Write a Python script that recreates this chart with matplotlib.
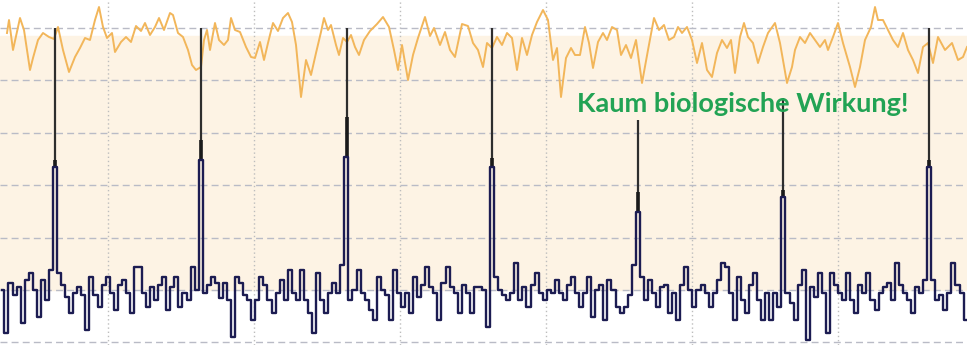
import matplotlib
matplotlib.use("Agg")
import matplotlib.pyplot as plt
import numpy as np

# orange curve: time (t) and amplitude
orange_t = [7, 9, 13, 20, 24, 30, 33, 38, 43, 49, 54, 58, 63, 69, 75, 80, 85, 90, 95, 99,
            103, 107, 112, 115, 121, 126, 131, 136, 141, 145, 150, 155, 159, 164, 170, 173,
            178, 183, 188, 192, 196, 201, 204, 207, 210, 215, 219, 224, 228, 231, 235, 240,
            246, 251, 255, 260, 264, 268, 273, 278, 283, 288, 292, 296, 301, 306, 311, 316,
            321, 324, 328, 331, 336, 339, 343, 347, 351, 355, 359, 364, 370, 377, 383, 389,
            394, 398, 402, 408, 413, 418, 425, 430, 434, 440, 445, 450, 455, 462, 468, 473,
            478, 483, 487, 492, 497, 502, 507, 512, 517, 522, 527, 532, 537, 543, 548, 553,
            557, 561, 566, 571, 575, 580, 585, 589, 593, 598, 603, 607, 612, 617, 621, 626,
            631, 636, 642, 648, 654, 659, 664, 669, 674, 678, 682, 687, 692, 697, 702, 707,
            712, 717, 722, 727, 731, 735, 740, 744, 748, 753, 758, 763, 768, 775, 780, 787,
            792, 795, 800, 805, 810, 815, 820, 825, 828, 833, 838, 843, 850, 855, 860, 865,
            871, 875, 878, 883, 888, 893, 898, 903, 908, 913, 918, 923, 928, 933, 938, 945,
            952, 958, 963, 967]
orange_a = [257, 270, 240, 272, 260, 220, 232, 250, 257, 253, 251, 263, 240, 218, 233, 242,
            252, 250, 270, 283, 263, 252, 257, 238, 248, 253, 248, 264, 259, 267, 255, 263,
            272, 260, 277, 275, 257, 253, 240, 225, 220, 223, 250, 260, 240, 267, 250, 245,
            250, 272, 260, 258, 243, 233, 232, 248, 230, 247, 267, 259, 272, 277, 268, 245,
            193, 230, 215, 237, 258, 272, 260, 265, 245, 235, 252, 248, 255, 243, 235, 250,
            259, 266, 273, 263, 240, 220, 245, 210, 235, 252, 273, 254, 262, 245, 258, 240,
            233, 266, 264, 247, 240, 223, 247, 242, 253, 245, 257, 252, 220, 252, 235, 255,
            268, 280, 270, 230, 242, 193, 232, 242, 235, 235, 263, 247, 222, 248, 257, 250,
            263, 260, 235, 245, 232, 250, 207, 240, 272, 260, 265, 250, 253, 263, 257, 263,
            250, 227, 247, 220, 213, 237, 250, 242, 250, 217, 253, 267, 253, 247, 227, 243,
            257, 267, 247, 207, 223, 240, 253, 247, 257, 250, 243, 250, 240, 253, 267, 247,
            223, 203, 223, 250, 263, 283, 270, 270, 260, 250, 243, 257, 240, 230, 217, 243,
            247, 227, 253, 240, 247, 230, 233, 243]

# navy noise, sampled every dt starting at t0
noise_t0 = 2.4
noise_dt = 4.047
noise_a = [0, -43, 7, -5, 3, -33, 10, 17, 0, -27, 10, -10, 20, 123,
           17, 5, -7, -23, -3, 3, -5, -40, 13, -5, -17, 5, 13, -3, -20, 5, 10, -3, -23, 23,
           23, -3, -17, 3, -10, 5, 13, -20, 3, 13, -17, -3, -10, 23, 0, 130,
           -3, 5, 13, 7, -8, 7, -10, -47, 13, 7, -5, -10, -30, -10, 13, 5, -10, -23, -3, 10,
           -10, 20, -3, -10, 20, -10, -23, -43, 17, -10, -23, -3, 7, -3, 25, 133,
           -10, 0, 20, -3, -10, -20, -30, 13, 0, -5, -30, 20, -3, -17, -3, -23, 13, -7, 5,
           23, 3, -3, -30, 7, 23, 3, -3, -23, 5, -3, -23, 3, 3, 0, -37, 123,
           13, 0, -5, -10, -3, 27, -10, 3, -17, 5, 17, -3, -10, 0, -3, 10, -3, -10, 5, 13,
           -3, -17, -3, 13, -27, 0, 5, -30, 10, 0, -17, -23, -17, -5, 25, 78,
           13, -10, 10, -3, -17, 3, 5, -23, -3, -30, 5, 23, 0, -17, 0, 5, -3, -17, -3, 10,
           27, 23, -3, -30, 13, -10, -23, 5, 17, -10, -30, -3, -30, -3, -17, 93,
           -3, -13, -30, 5, 20, -50, 3, -7, 17, -3, -43, 17, 5, -3, -10, 17, -10, -23, 5,
           -3, 17, -10, -20, -3, 3, 7, -10, 27, 5, -3, -10, -23, 3, -3, 10, 123,
           10, -10, -5, -20, -3, 27, 5, -3, -30]

# spikes
spike_t = [55, 201, 347, 492, 638, 783, 929]
spike_peak = [262, 262, 262, 262, 170, 192, 262]
spike_knee = [130, 150, 173, 132, 98, 100, 130]
spike_mid = [123, 130, 133, 123, 78, 93, 123]

label = "Kaum biologische Wirkung!"

fig = plt.figure(figsize=(9.67, 3.45), dpi=100)
ax = fig.add_axes([0, 0, 1, 1])
ax.set_xlim(0, 967)
ax.set_ylim(-55, 290)

ax.axhspan(0, 254, color="#fdf3e4", zorder=0)

ax.set_xticks([107.5 + 146 * k for k in range(6)])
ax.set_yticks([52.4 * k for k in range(-1, 6)])
ax.xaxis.grid(True, color="#bdbdbd", lw=1.0, ls=(0, (1, 2)))
ax.yaxis.grid(True, color="#b9bbc6", lw=1.0, ls=(0, (5, 3)))
ax.set_axisbelow(True)
ax.tick_params(length=0, labelbottom=False, labelleft=False)
for s in ax.spines.values():
    s.set_visible(False)

ax.plot(orange_t, orange_a, color="#f2b65a", lw=1.4, zorder=3)

ax.vlines(spike_t, spike_mid, spike_peak, color="#2e2e2e", lw=1.6, zorder=4)
ax.vlines(spike_t, spike_mid, spike_knee, color="#1a1a1a", lw=2.6, zorder=4)

nt = noise_t0 + noise_dt * np.arange(len(noise_a))
ax.plot(nt, noise_a, color="#1c1c52", lw=1.7, drawstyle="steps-mid", zorder=5)

ax.text(577, 178, label, color="#22a354", fontsize=19.5, fontweight="bold",
        family=["Lato", "DejaVu Sans"], va="baseline", ha="left", zorder=6)

fig.savefig("out.png", dpi=100)
